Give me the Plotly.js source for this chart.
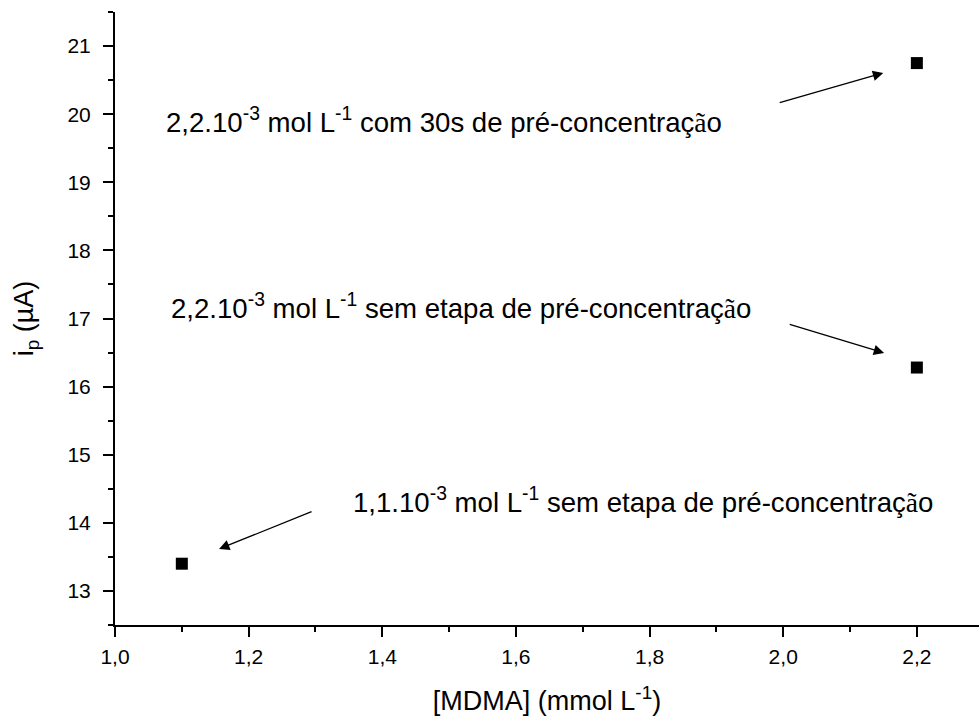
<!DOCTYPE html>
<html>
<head>
<meta charset="utf-8">
<script src="https://cdn.plot.ly/plotly-3.0.1.min.js"></script>
<style>html,body{margin:0;padding:0;background:#fff;}#chart{width:979px;height:717px;}</style>
</head>
<body>
<div id="chart"></div>
<script>
// Data
const concentration = [1.1, 2.2, 2.2];          // [MDMA] (mmol L-1)
const currentPeak   = [13.4, 16.28, 20.75];      // ip (µA)
const noteTexts = [
  "2,2.10<sup>-3</sup> mol L<sup>-1</sup> com 30s de pré-concentraç<span style=\"font-family:'Liberation Serif'\">ã</span>o",
  "2,2.10<sup>-3</sup> mol L<sup>-1</sup> sem etapa de pré-concentraç<span style=\"font-family:'Liberation Serif'\">ã</span>o",
  "1,1.10<sup>-3</sup> mol L<sup>-1</sup> sem etapa de pré-concentraç<span style=\"font-family:'Liberation Serif'\">ã</span>o"
];
const notePos = [[1.074, 19.9], [1.081, 17.18], [1.353, 14.33]];
// arrows: [tailX, tailY, headX, headY] in data units
const arrows = [
  [1.9925, 20.164, 2.1497, 20.605],
  [2.0075, 16.919, 2.151, 16.494],
  [1.2964, 14.174, 1.1557, 13.616]
];

const FONT = "'Liberation Sans', Arial, sans-serif";

const trace = {
  x: concentration, y: currentPeak,
  type: 'scatter', mode: 'markers',
  marker: {symbol: 'square', size: 12, color: '#000'},
  hoverinfo: 'none'
};

const annotations = [];
noteTexts.forEach((t, i) => {
  annotations.push({
    x: notePos[i][0], y: notePos[i][1], xref: 'x', yref: 'y',
    text: t, showarrow: false, xanchor: 'left', yanchor: 'middle',
    font: {family: FONT, size: 27.6, color: '#000'}
  });
});
arrows.forEach(a => {
  annotations.push({
    x: a[2], y: a[3], ax: a[0], ay: a[1],
    xref: 'x', yref: 'y', axref: 'x', ayref: 'y',
    text: '', showarrow: true, arrowhead: 2, arrowsize: 1.6,
    arrowwidth: 1.3, arrowcolor: '#000', standoff: 0, startstandoff: 0
  });
});

const layout = {
  width: 979, height: 717,
  margin: {l: 115, r: 0, t: 12, b: 92},
  paper_bgcolor: '#fff', plot_bgcolor: '#fff',
  showlegend: false,
  font: {family: FONT, color: '#000'},
  xaxis: {
    range: [1.0, 2.293], showgrid: false, zeroline: false,
    showline: true, linecolor: '#000', linewidth: 2,
    ticks: 'outside', ticklen: 10, tickwidth: 2, tickcolor: '#000',
    tick0: 1.0, dtick: 0.2, tickformat: '.1f', ticklabelstandoff: 2,
    tickfont: {family: FONT, size: 21, color: '#000'},
    minor: {dtick: 0.1, tick0: 1.0, ticks: 'outside', ticklen: 5, tickwidth: 2, tickcolor: '#000'},
    title: {text: '[MDMA] (mmol L<sup>-1</sup>)', font: {family: FONT, size: 27, color: '#000'}, standoff: 24}
  },
  yaxis: {
    range: [12.5, 21.5], showgrid: false, zeroline: false,
    showline: true, linecolor: '#000', linewidth: 2,
    ticks: 'outside', ticklen: 10, tickwidth: 2, tickcolor: '#000',
    tick0: 13, dtick: 1, ticklabelstandoff: 8,
    tickfont: {family: FONT, size: 21, color: '#000'},
    minor: {dtick: 0.5, tick0: 12.5, ticks: 'outside', ticklen: 5, tickwidth: 2, tickcolor: '#000'},
    title: {text: 'i<sub>p</sub> (µA)', font: {family: FONT, size: 27, color: '#000'}, standoff: 26}
  },
  separators: ', ',
  annotations: annotations
};

Plotly.newPlot('chart', [trace], layout, {staticPlot: true, displayModeBar: false});
</script>
</body>
</html>
